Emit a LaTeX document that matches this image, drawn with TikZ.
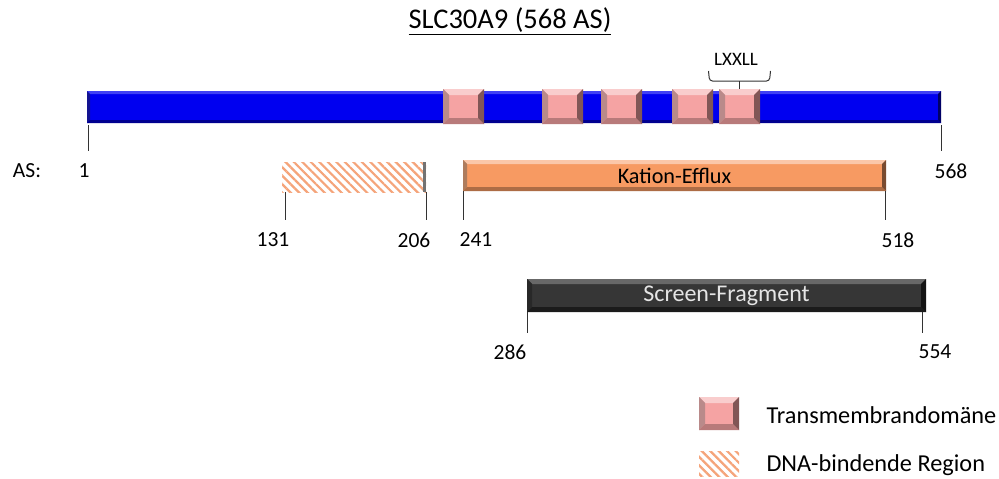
\documentclass[tikz,border=0pt]{standalone}
\usepackage{fontspec}
\setmainfont{Carlito}
\usetikzlibrary{positioning,patterns.meta}
\definecolor{protblue}{HTML}{0000F0}
\definecolor{tmpink}{HTML}{F5A3A3}
\definecolor{effluxor}{HTML}{F79A62}
\definecolor{screengray}{HTML}{363636}
\definecolor{hatchor}{HTML}{F5A47A}

\tikzset{
  bar/.style={rectangle,inner sep=0pt,outer sep=0pt,anchor=north west},
  tmbox/.style={bar,fill=tmpink,minimum width=41pt,minimum height=35pt},
  hatchbox/.style={bar,pattern={Lines[angle=-45,distance=6pt,line width=2.2pt]},pattern color=hatchor},
  num/.style={font=\fontsize{21.5}{24}\selectfont},
  legtext/.style={anchor=west,font=\fontsize{24.3}{27}\selectfont},
  tick/.style={draw=black!80,line width=1pt},
}

% bevel: node, light, dark, depth
\newcommand\bevel[4]{%
  \fill[#2] (#1.north west) -- (#1.north east) -- ([shift={(-#4,-#4)}]#1.north east) -- ([shift={(#4,-#4)}]#1.north west) -- cycle;
  \fill[#2!50!#3] (#1.north west) -- (#1.south west) -- ([shift={(#4,#4)}]#1.south west) -- ([shift={(#4,-#4)}]#1.north west) -- cycle;
  \fill[#3] (#1.south west) -- (#1.south east) -- ([shift={(-#4,#4)}]#1.south east) -- ([shift={(#4,#4)}]#1.south west) -- cycle;
  \fill[#3!70!black] (#1.north east) -- (#1.south east) -- ([shift={(-#4,#4)}]#1.south east) -- ([shift={(-#4,-#4)}]#1.north east) -- cycle;
}

\begin{document}
\begin{tikzpicture}[x=1pt,y=-1pt]
  \useasboundingbox[fill=white] (0,0) rectangle (999,479);

  % title
  \node[font=\fontsize{28.5}{31}\selectfont] (title) at (510,21) {\underline{SLC30A9 (568 AS)}};

  % protein
  \node[bar,fill=protblue,minimum width=854pt,minimum height=32pt] (prot) at (87,91) {};
  \bevel{prot}{protblue!75!white}{protblue!60!black}{3pt}
  \foreach \x/\n in {443/1,542/2,601/3,672/4,719/5}{
    \node[tmbox] (tm\n) at (\x,89) {};
    \bevel{tm\n}{tmpink!55!white}{tmpink!75!black}{6pt}
  }
  \draw[black!80,line width=1pt,rounded corners=3pt]
    ([shift={(-31pt,18pt)}]tm5.north) -- ([shift={(-30pt,8pt)}]tm5.north)
    -- ([shift={(30pt,8pt)}]tm5.north) -- ([shift={(31pt,18pt)}]tm5.north);
  \draw[black!80,line width=1pt] (tm5.north) -- ++(0pt,8pt);
  \node[font=\fontsize{19}{21}\selectfont] (lxxll) at (736,59) {LXXLL};

  \draw[tick] (prot.south west) ++(1pt,-2pt) -- ++(0pt,-26pt);
  \draw[tick] (prot.south east) ++(0pt,-2pt) -- ++(0pt,-26pt);
  \node[num] (as) at (27,171) {AS:};
  \node[num] (n1) at (84,171) {1};
  \node[num] (n568) at (951,171) {568};

  % DNA binding region
  \node[hatchbox,minimum width=144pt,minimum height=30pt] (dna) at (282,162) {};
  \fill[black!55] (dna.north east) rectangle ([xshift=-3pt]dna.south east);
  \draw[tick] ([xshift=3pt]dna.south west) -- ++(0pt,-28pt);
  \draw[tick] (dna.south east) -- ++(0pt,-28pt);
  \node[num] (n131) at (273,240) {131};
  \node[num] (n206) at (414,240) {206};

  % Kation-Efflux
  \node[bar,fill=effluxor,minimum width=423pt,minimum height=31pt] (efflux) at (463,160) {};
  \bevel{efflux}{effluxor!55!white}{effluxor!70!black}{4pt}
  \node[font=\fontsize{22.2}{25}\selectfont] at (efflux.center) {Kation-Efflux};
  \draw[tick] (efflux.south west) -- ++(0pt,-29pt);
  \draw[tick] ([xshift=-1pt]efflux.south east) -- ++(0pt,-29pt);
  \node[num] (n241) at (476,240) {241};
  \node[num] (n518) at (898,240) {518};

  % Screen-Fragment
  \node[bar,fill=screengray,minimum width=399pt,minimum height=33pt] (screen) at (527,279) {};
  \bevel{screen}{screengray!75!white}{screengray!50!black}{5pt}
  \node[font=\fontsize{24}{27}\selectfont,text=white!90!black] at (screen.center) {Screen-Fragment};
  \draw[tick] (screen.south west) -- ++(0pt,-21pt);
  \draw[tick] ([xshift=-4pt]screen.south east) -- ++(0pt,-21pt);
  \node[num] (n286) at (510,352) {286};
  \node[num] (n554) at (935,352) {554};

  % legend
  \node[tmbox,minimum height=33pt,minimum width=40pt] (legtm) at (699,397) {};
  \bevel{legtm}{tmpink!55!white}{tmpink!75!black}{6pt}
  \node[legtext] (legtmtext) at (763,415) {Transmembrandomäne};
  \node[hatchbox,minimum width=40pt,minimum height=25pt] (legdna) at (699,451) {};
  \node[legtext] (legdnatext) at (763,465) {DNA-bindende Region};
\end{tikzpicture}
\end{document}
